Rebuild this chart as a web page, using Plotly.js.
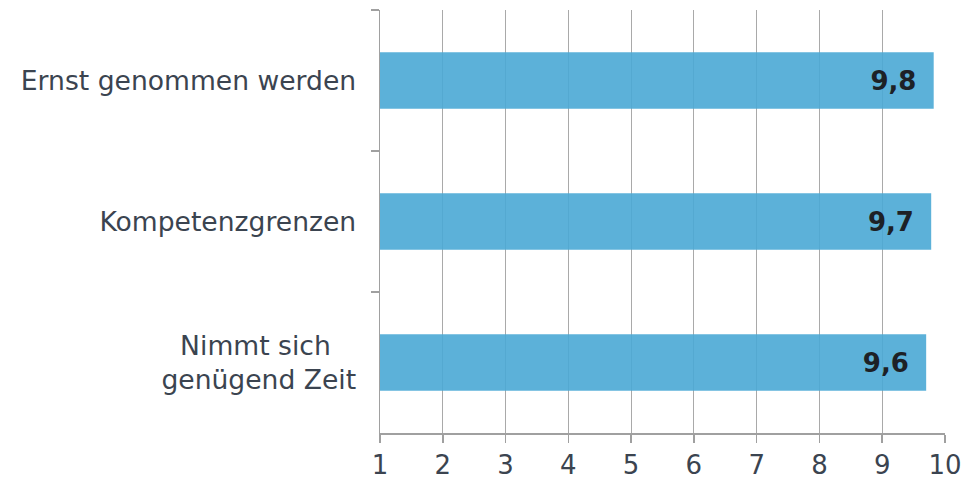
<!DOCTYPE html>
<html><head><meta charset="utf-8">
<script src="https://cdn.plot.ly/plotly-3.0.1.min.js"></script>
<style>html,body{margin:0;padding:0;background:#fff}</style>
</head><body><div id="chart" style="width:964px;height:481px"></div>
<script>
const categories = ["Ernst genommen werden", "Kompetenzgrenzen", "Nimmt sich\u00a0\u00a0\u00a0<br>genügend Zeit"];
const values = [9.82, 9.78, 9.70];
const valueLabels = ["9,8", "9,7", "9,6"];
const tickVals = [1,2,3,4,5,6,7,8,9,10];
const labels = valueLabels.map(s => s + '\u00a0\u2009');

Plotly.newPlot('chart', [{
  type: 'bar', orientation: 'h',
  y: categories, x: values,
  text: labels, textposition: 'inside', insidetextanchor: 'end',
  textfont: {family: 'DejaVu Sans', size: 26, color: '#1d2126', weight: 'bold'},
  marker: {color: '#4aa8d5', opacity: 0.9, line: {width: 0}},
  width: 0.4, hoverinfo: 'none'
}], {
  width: 964, height: 481,
  margin: {l: 380, r: 19, t: 10, b: 48},
  paper_bgcolor: '#fff', plot_bgcolor: '#fff',
  showlegend: false,
  font: {family: 'DejaVu Sans', color: '#3b4450'},
  xaxis: {range: [1, 10], tickvals: tickVals, showgrid: true, gridcolor: '#a9a9a9', gridwidth: 1,
    showline: true, linecolor: '#a0a0a0', linewidth: 1.5, ticks: 'outside', ticklen: 8, tickwidth: 1.5, tickcolor: '#a0a0a0',
    tickfont: {size: 26, color: '#3b4450'}, zeroline: false, fixedrange: true},
  yaxis: {type: 'category', autorange: 'reversed', showline: true, linecolor: '#a0a0a0', linewidth: 1.5,
    ticks: 'outside', tickson: 'boundaries', ticklen: 8, tickwidth: 1.5, tickcolor: '#a0a0a0',
    tickfont: {size: 26.6, color: '#3b4450'}, showgrid: false, zeroline: false, ticklabelstandoff: 17}
}, {displayModeBar: false, staticPlot: true});
</script></body></html>
